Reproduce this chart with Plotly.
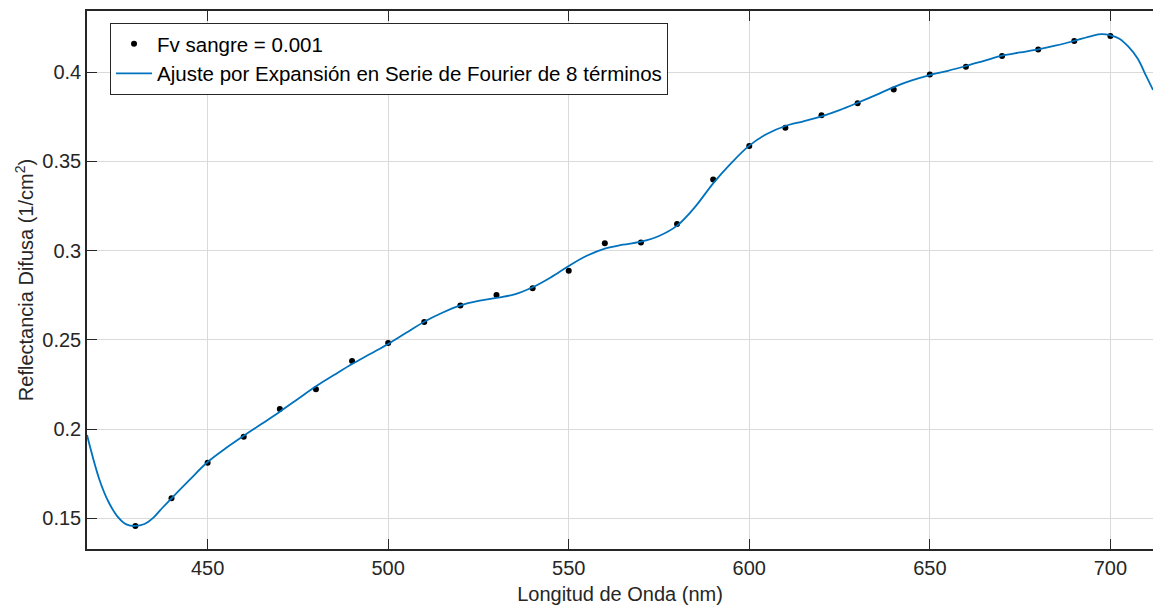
import plotly.graph_objects as go

# Measured data points (Fv sangre = 0.001)
wl_points = [430, 440, 450, 460, 470, 480, 490, 500, 510, 520, 530, 540, 550, 560,
             570, 580, 590, 600, 610, 620, 630, 640, 650, 660, 670, 680, 690, 700]
refl_points = [0.1458, 0.1613, 0.1812, 0.1958, 0.2113, 0.2223, 0.2382, 0.2483, 0.2600,
               0.2692, 0.2751, 0.2789, 0.2888, 0.3041, 0.3046, 0.3149, 0.3399, 0.3586,
               0.3688, 0.3758, 0.3825, 0.3903, 0.3987, 0.4030, 0.4090, 0.4127, 0.4174,
               0.4202]

# Fourier fit curve
wl_fit = [416.6, 420, 422.5, 425, 427.5, 430, 432.5, 435, 437.5, 440, 445, 450, 455, 460,
          465, 470, 475, 480, 485, 490, 495, 500, 505, 510, 515, 520, 525, 530, 535, 540,
          545, 550, 555, 560, 565, 570, 575, 580, 585, 590, 595, 600, 605, 610, 615, 620,
          625, 630, 635, 640, 645, 650, 655, 660, 665, 670, 675, 680, 685, 690, 695, 697.5,
          700, 702.5, 705, 707.5, 710, 711.8]
refl_fit = [0.1967, 0.1720, 0.1595, 0.1512, 0.1467, 0.1458, 0.1469, 0.1505, 0.1560, 0.1613,
            0.1716, 0.1816, 0.1893, 0.1963, 0.2030, 0.2098, 0.2169, 0.2240, 0.2303, 0.2365,
            0.2421, 0.2477, 0.2540, 0.2602, 0.2652, 0.2693, 0.2718, 0.2735, 0.2755, 0.2795,
            0.2850, 0.2914, 0.2971, 0.3011, 0.3033, 0.3050, 0.3082, 0.3140, 0.3245, 0.3377,
            0.3490, 0.3588, 0.3655, 0.3698, 0.3724, 0.3752, 0.3787, 0.3828, 0.3871, 0.3916,
            0.3953, 0.3983, 0.4007, 0.4034, 0.4063, 0.4092, 0.4110, 0.4127, 0.4149, 0.4175,
            0.4203, 0.4212, 0.4206, 0.4187, 0.4142, 0.4077, 0.3974, 0.3900]

x_ticks = [450, 500, 550, 600, 650, 700]
y_ticks = [0.15, 0.2, 0.25, 0.3, 0.35, 0.4]
y_tick_labels = ["0.15", "0.2", "0.25", "0.3", "0.35", "0.4"]

FONT = "Liberation Sans, Arial, Helvetica, sans-serif"
AXC = "#262626"
GRID = "#dadada"
FS = 20

fig = go.Figure()
fig.add_trace(go.Scatter(
    x=wl_points, y=refl_points, mode="markers", name="Fv sangre = 0.001",
    marker=dict(color="black", size=6, symbol="circle"),
))
fig.add_trace(go.Scatter(
    x=wl_fit, y=refl_fit, mode="lines", line_shape="spline",
    name="Ajuste por Expansión en Serie de Fourier de 8 términos",
    line=dict(color="#0072BD", width=1.8, smoothing=1),
))

fig.update_layout(
    width=1153, height=607,
    margin=dict(l=87, r=0, t=11, b=58, autoexpand=False),
    paper_bgcolor="white", plot_bgcolor="white",
    font=dict(family=FONT, size=FS, color=AXC),
    showlegend=True,
    legend=dict(
        x=0.0216, y=0.978, xanchor="left", yanchor="top",
        bgcolor="white", bordercolor="#262626", borderwidth=1,
        font=dict(family=FONT, size=20.5, color="black"),
        tracegroupgap=0, itemwidth=36,
    ),
    xaxis=dict(
        range=[416.6, 711.8], tickvals=x_ticks, automargin=False,
        showgrid=True, gridcolor=GRID, gridwidth=1,
        showline=True, linecolor=AXC, linewidth=1.5, mirror="ticks",
        ticks="inside", ticklen=10, tickcolor=AXC, tickwidth=1,
        zeroline=False,
        title=dict(text="Longitud de Onda (nm)", standoff=9, font=dict(size=FS)),
        tickfont=dict(size=FS),
    ),
    yaxis=dict(
        range=[0.1329, 0.4342], tickvals=y_ticks, ticktext=y_tick_labels, automargin=False,
        showgrid=True, gridcolor=GRID, gridwidth=1,
        showline=True, linecolor=AXC, linewidth=1.5, mirror=False,
        ticks="inside", ticklen=10, tickcolor=AXC, tickwidth=1,
        zeroline=False,
        title=dict(text="Reflectancia Difusa (1/cm<sup>2</sup>)", standoff=3, font=dict(size=FS)),
        tickfont=dict(size=FS),
    ),
)

fig.write_html(
    "out.html",
    config={"displayModeBar": False},
    post_script="document.body.style.margin='0';document.body.style.overflow='hidden';",
)
